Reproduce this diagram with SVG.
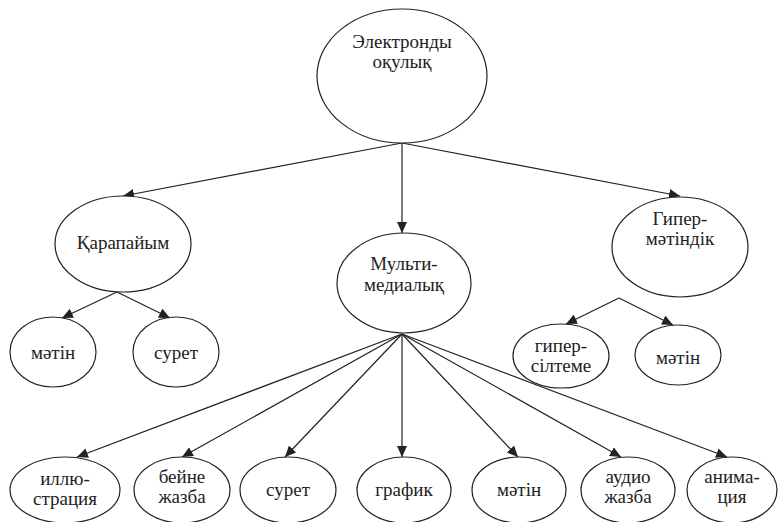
<svg xmlns="http://www.w3.org/2000/svg" width="778" height="522" viewBox="0 0 778 522">
<defs>
<style>
.n ellipse{fill:#fff;stroke:#222;stroke-width:1.2}
svg .n text{font-family:'Liberation Serif',serif;font-size:19px;fill:#222;text-anchor:middle}
.e line{stroke:#222;stroke-width:1.2;marker-end:url(#ah)}
</style>
<marker id="ah" markerUnits="userSpaceOnUse" markerWidth="12" markerHeight="10" refX="11" refY="5" orient="auto">
<path d="M0,0 L11,5 L0,10 Z" fill="#222"/>
</marker>
</defs>
<rect width="778" height="522" fill="#fff"/>
<g id="connectors" class="e">
<line x1="402" y1="143" x2="123" y2="196"/>
<line x1="402" y1="143" x2="402" y2="233"/>
<line x1="402" y1="143" x2="680" y2="196"/>
<line x1="117" y1="292" x2="62" y2="318"/>
<line x1="117" y1="292" x2="170" y2="318"/>
<line x1="619" y1="298" x2="566" y2="324"/>
<line x1="619" y1="298" x2="673" y2="325"/>
<line x1="402" y1="334" x2="77" y2="457"/>
<line x1="402" y1="334" x2="182" y2="457"/>
<line x1="402" y1="334" x2="285" y2="457"/>
<line x1="402" y1="334" x2="402" y2="457"/>
<line x1="402" y1="334" x2="518" y2="457"/>
<line x1="402" y1="334" x2="621" y2="457"/>
<line x1="402" y1="334" x2="727" y2="457"/>
</g>
<g id="root" class="n"><ellipse cx="402" cy="76" rx="85" ry="67"/><text font-family="Liberation Serif, serif" x="402" y="48">Электронды</text><text font-family="Liberation Serif, serif" x="402" y="68">оқулық</text></g>
<g id="karapaiym" class="n"><ellipse cx="123" cy="244" rx="68" ry="48"/><text font-family="Liberation Serif, serif" x="123" y="249">Қарапайым</text></g>
<g id="multi" class="n"><ellipse cx="404" cy="283" rx="67" ry="50"/><text font-family="Liberation Serif, serif" x="404" y="270">Мульти-</text><text font-family="Liberation Serif, serif" x="404" y="291">медиалық</text></g>
<g id="giper" class="n"><ellipse cx="680" cy="247" rx="68" ry="50"/><text font-family="Liberation Serif, serif" x="680" y="225">Гипер-</text><text font-family="Liberation Serif, serif" x="680" y="245">мәтіндік</text></g>
<g id="k-matin" class="n"><ellipse cx="53" cy="352" rx="43" ry="35"/><text font-family="Liberation Serif, serif" x="53" y="359">мәтін</text></g>
<g id="k-suret" class="n"><ellipse cx="176" cy="352" rx="43" ry="35"/><text font-family="Liberation Serif, serif" x="176" y="359">сурет</text></g>
<g id="g-silteme" class="n"><ellipse cx="561" cy="356" rx="48" ry="32"/><text font-family="Liberation Serif, serif" x="561" y="352">гипер-</text><text font-family="Liberation Serif, serif" x="561" y="372">сілтеме</text></g>
<g id="g-matin" class="n"><ellipse cx="678" cy="355" rx="43" ry="30"/><text font-family="Liberation Serif, serif" x="678" y="364">мәтін</text></g>
<g id="m-illustr" class="n"><ellipse cx="65" cy="490" rx="55" ry="33"/><text font-family="Liberation Serif, serif" x="65" y="485">иллю-</text><text font-family="Liberation Serif, serif" x="65" y="505">страция</text></g>
<g id="m-beine" class="n"><ellipse cx="182" cy="490" rx="48" ry="33"/><text font-family="Liberation Serif, serif" x="182" y="483">бейне</text><text font-family="Liberation Serif, serif" x="182" y="503">жазба</text></g>
<g id="m-suret" class="n"><ellipse cx="288" cy="490" rx="48" ry="33"/><text font-family="Liberation Serif, serif" x="288" y="496">сурет</text></g>
<g id="m-grafik" class="n"><ellipse cx="404" cy="490" rx="47" ry="33"/><text font-family="Liberation Serif, serif" x="404" y="496">график</text></g>
<g id="m-matin" class="n"><ellipse cx="519" cy="490" rx="47" ry="33"/><text font-family="Liberation Serif, serif" x="519" y="496">мәтін</text></g>
<g id="m-audio" class="n"><ellipse cx="628" cy="490" rx="47" ry="33"/><text font-family="Liberation Serif, serif" x="628" y="483">аудио</text><text font-family="Liberation Serif, serif" x="628" y="503">жазба</text></g>
<g id="m-anim" class="n"><ellipse cx="732" cy="490" rx="45" ry="33"/><text font-family="Liberation Serif, serif" x="732" y="483">анима-</text><text font-family="Liberation Serif, serif" x="732" y="503">ция</text></g>
</svg>
